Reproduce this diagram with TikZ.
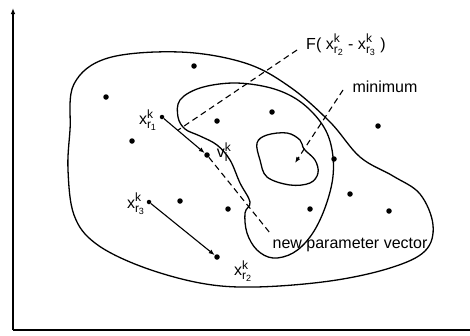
\documentclass[tikz,border=0pt]{standalone}
\usepackage{fontspec}
\setmainfont{Liberation Sans}
\setsansfont{Liberation Sans}
\usetikzlibrary{arrows.meta,calc,positioning}
\DeclareMathSizes{16}{16}{12}{9}

\newcommand{\popvec}[1]{$\mathsf{x}^{\mathsf{k}}_{\mathsf{r}_{\mathsf{#1}}}$}

\begin{document}
\begin{tikzpicture}[x=1pt,y=-1pt,>={Latex[length=6pt,width=4.5pt]},
  member/.style={circle,fill,inner sep=0pt,minimum size=5.5pt},
  contour/.style={line width=1.3pt},
  lbl/.style={font=\fontsize{16}{19}\selectfont,inner sep=1pt},
  guide/.style={dash pattern=on 6pt off 4pt,line width=1.1pt}]
  \useasboundingbox (0,0) rectangle (470,335);
  % axes
  \coordinate (O) at (13,330);
  \coordinate (Ytop) at (13,8);
  \coordinate (Xend) at (470,330);
  \draw[line width=1.1pt,->] (O) -- (Ytop);
  \draw[line width=1.1pt] (O) -- (Xend);
  % level sets of the cost function
  \draw[contour] plot[smooth cycle,tension=0.6] coordinates {
    (70,130) (74,84) (108,58) (180,52) (245,63) (290,87) (330,122)
    (360,157) (393,176) (420,194) (433,225) (425,251) (390,268)
    (330,281) (255,287) (200,283) (140,266) (95,243) (74,215) (68,170)};
  \draw[contour] plot[smooth cycle,tension=0.6] coordinates {
    (180,100) (200,88) (233,83) (267,87) (293,97) (313,113) (327,133)
    (333,157) (332,183) (323,213) (310,237) (293,253) (273,258)
    (257,250) (247,233) (245,213) (250,202) (240,183) (230,160)
    (217,145) (200,136) (185,129) (178,117)};
  \draw[contour] plot[smooth cycle,tension=0.6] coordinates {
    (257,143) (267,135) (287,133) (300,140) (304,149) (315,160)
    (318,173) (310,183) (290,185) (267,177) (260,160)};
  % population members
  \node[member] (p1) at (194,66) {};
  \node[member] (p2) at (106,97) {};
  \node[member] (p3) at (217,121) {};
  \node[member] (p4) at (272,112) {};
  \node[member] (p5) at (378,126) {};
  \node[member] (p6) at (132,141) {};
  \node[member] (p7) at (334,159) {};
  \node[member] (p8) at (350,194) {};
  \node[member] (p9) at (180,201) {};
  \node[member] (p10) at (228,209) {};
  \node[member] (p11) at (310,209) {};
  \node[member] (p12) at (389,211) {};
  \node[member,minimum size=4.5pt] (r1) at (162,117) {};
  \node[member,minimum size=4.5pt] (r3) at (149,202) {};
  \node[member] (r2) at (217,257) {};
  \node[member] (v) at (207,155) {};
  % labels
  \node[lbl] (lr1) at (148,120) {\popvec{1}};
  \node[lbl] (lr3) at (136,204) {\popvec{3}};
  \node[lbl] (lr2) at (243,271) {\popvec{2}};
  \node[lbl] (lv) at (224,152) {$\mathsf{v}^{\mathsf{k}}_{\mathsf{i}}$};
  \node[lbl] (lF) at (346,45) {F( \popvec{2} - \popvec{3} )};
  \node[lbl] (lmin) at (385,87) {minimum};
  \node[lbl] (lnew) at (350,245) {new parameter vector};
  % difference vector and mutation
  \draw[line width=1.1pt,->] (r1) -- (v);
  \draw[line width=1.1pt,->] (r3) -- (r2);
  \coordinate (Fend) at ($(r1)!0.35!(v)$);
  \coordinate (Fstart) at (297,50);
  \coordinate (minstart) at (343,90);
  \coordinate (minend) at (295,163);
  \coordinate (newend) at (270,233);
  \draw[guide] (Fstart) -- (Fend);
  \draw[guide,->] (minstart) -- (minend);
  \draw[guide] (v) -- (newend);
\end{tikzpicture}
\end{document}
